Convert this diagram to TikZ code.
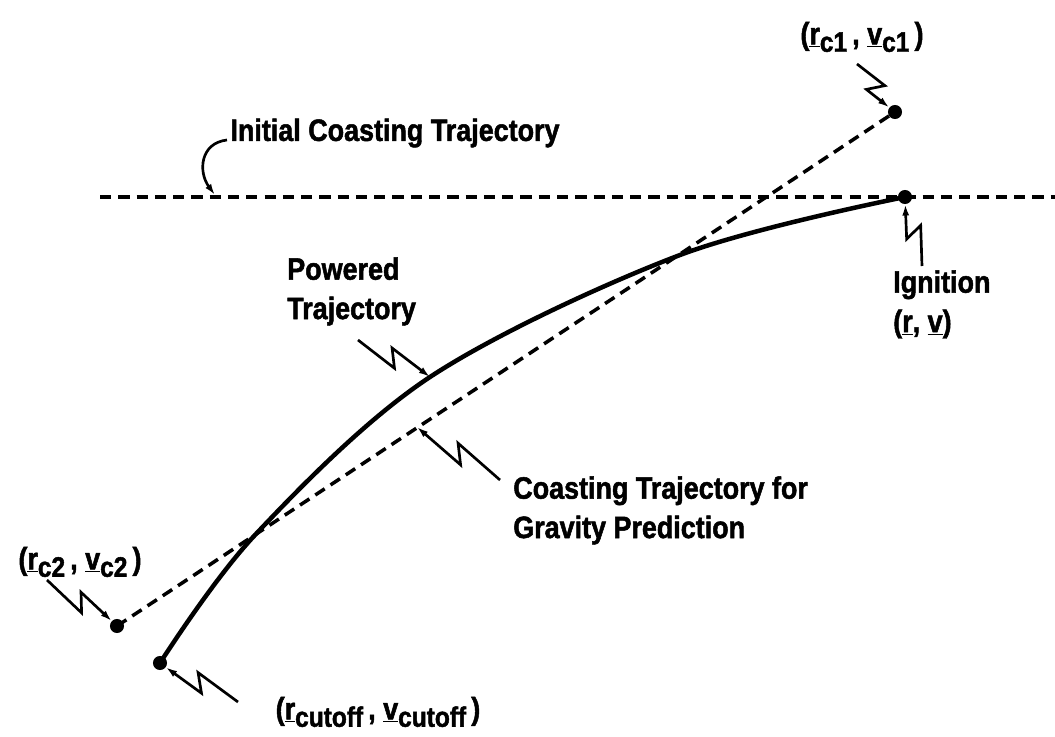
\documentclass[tikz,border=0pt]{standalone}
\usepackage{fontspec}
\setmainfont{Liberation Sans}[FakeStretch=0.87, BoldFeatures={FakeBold=1.6}]
\usetikzlibrary{arrows.meta,calc}

\newcommand{\vsub}[1]{\raisebox{-0.45ex}{\fontsize{20}{20}\selectfont #1}}

\begin{document}
\begin{tikzpicture}[x=0.025cm, y=-0.025cm,
  lbl/.style={font=\fontsize{22}{28}\selectfont\bfseries, inner sep=0pt, align=left},
  dot/.style={circle, fill, inner sep=0pt, minimum size=10pt},
  coast/.style={dash pattern=on 8pt off 5pt, line width=2.5pt},
  powered/.style={line width=3.2pt, line cap=round},
  leader/.style={line width=1.9pt, -{Latex[length=8pt,width=5pt]}},
  zig/.style={to path={-- ($(\tikztostart)!0.56!(\tikztotarget)!#1!-90:(\tikztotarget)$) -- ($(\tikztostart)!0.42!(\tikztotarget)!#1!90:(\tikztotarget)$) -- (\tikztotarget)}}
]
\useasboundingbox (0,0) rectangle (1055,737);

% end points
\node[dot] (ign) at (905,197) {};
\node[dot] (rc1) at (895,112) {};
\node[dot] (rc2) at (117,626) {};
\node[dot] (cut) at (160,663) {};

% trajectories
\draw[coast] (100,197) -- (1055,197);
\draw[coast] (rc2.center) -- (rc1.center);
\draw[powered] plot[smooth, tension=0.55] coordinates {(905,197) (680,255) (430,377) (255,535) (160,663)};

\coordinate (hl) at (215,195);
\coordinate (pw) at (430,377);
\coordinate (cg) at (417,427);

% labels
\node[lbl] (rc1lbl) at (862,37) {(\underline{r}\vsub{c1}\,,\ \underline{v}\vsub{c1}\,)};
\node[lbl] (initlbl) at (395,133) {Initial Coasting Trajectory};
\node[lbl, anchor=north west] (ignlbl) at (893,270) {Ignition\\(\underline{r},\ \underline{v})};
\node[lbl, anchor=north west] (powlbl) at (287,257) {Powered\\Trajectory};
\node[lbl, anchor=north west] (coastlbl) at (513,476) {Coasting Trajectory for\\Gravity Prediction};
\node[lbl] (rc2lbl) at (80,562) {(\underline{r}\vsub{c2}\,,\ \underline{v}\vsub{c2}\,)};
\node[lbl] (cutlbl) at (378,712) {(\underline{r}\vsub{cutoff}\,,\ \underline{v}\vsub{cutoff}\,)};

% leaders
\coordinate (rc1tail) at (857,64);
\coordinate (inittail) at (227,140);
\coordinate (igntail) at (922,266);
\coordinate (powtail) at (358,340);
\coordinate (coasttail) at (500,480);
\coordinate (rc2tail) at (47,580);
\coordinate (cuttail) at (238,702);

\draw[leader] (rc1tail) to[zig=-6pt] (rc1);
\draw[leader] (inittail) .. controls (200,143) and (198,172) .. (hl);
\draw[leader] (igntail) to[zig=6pt] (ign);
\draw[leader] (powtail) to[zig=6pt] (pw);
\draw[leader] (coasttail) to[zig=6pt] (cg);
\draw[leader] (rc2tail) to[zig=6pt] (rc2);
\draw[leader] (cuttail) to[zig=6pt] (cut);
\end{tikzpicture}
\end{document}
